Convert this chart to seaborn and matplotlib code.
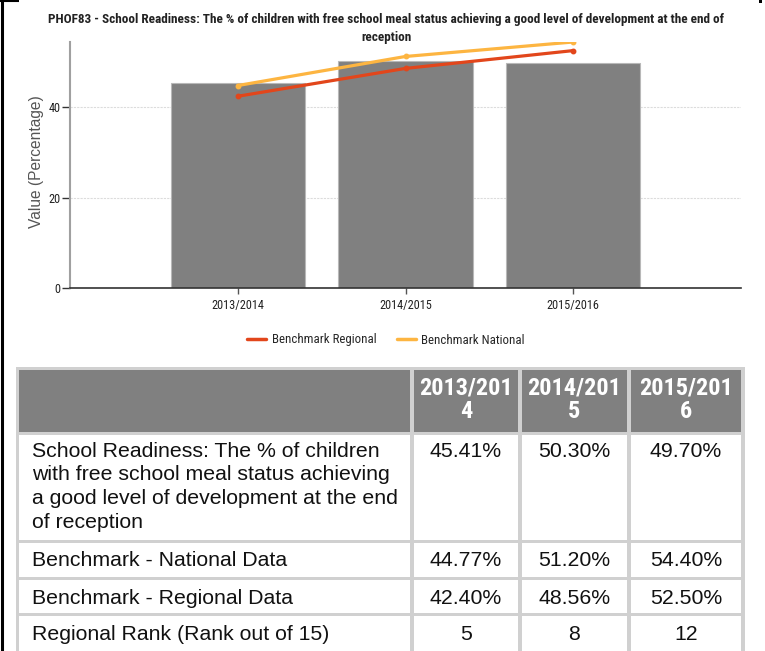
import matplotlib
matplotlib.use('Agg')
import matplotlib.pyplot as plt
import seaborn as sns
import pandas as pd
from matplotlib import font_manager as fm
from matplotlib.patches import Rectangle
from matplotlib.lines import Line2D

# ---------------- data ----------------
periods = ['2013/2014', '2014/2015', '2015/2016']
values = [45.41, 50.30, 49.70]
national = [44.77, 51.20, 54.40]
regional = [42.40, 48.56, 52.50]
ranks = [5, 8, 12]
y_ticks = [0, 20, 40]
header_labels = ['2013/201\n4', '2014/201\n5', '2015/201\n6']
row_labels = ['School Readiness: The % of children\nwith free school meal status achieving\n'
              'a good level of development at the end\nof reception',
              'Benchmark - National Data',
              'Benchmark - Regional Data',
              'Regional Rank (Rank out of 15)']
title = ('PHOF83 - School Readiness: The % of children with free school meal status achieving '
         'a good level of development at the end of\nreception')
legend_labels = ['Benchmark Regional', 'Benchmark National']

# ---------------- style ----------------
sns.set_theme(style='white')
plt.rcParams['font.family'] = ['Liberation Sans', 'DejaVu Sans']


def available(name):
    try:
        fm.findfont(fm.FontProperties(family=name), fallback_to_default=False)
        return True
    except Exception:
        return False


NARROW = ['Liberation Sans', 'DejaVu Sans']
NS = 0.82  # size factor when no condensed face exists
for cand in ['Liberation Sans Narrow', 'Arial Narrow', 'Roboto Condensed',
             'DejaVu Sans Condensed']:
    if available(cand):
        NARROW = [cand, 'DejaVu Sans']
        NS = 1.0
        break

C_BAR = '#808080'
C_REG = '#E2461B'
C_NAT = '#FDB541'

W, H = 765, 651
fig = plt.figure(figsize=(W / 100, H / 100), dpi=100)
fig.patch.set_facecolor('white')


def fx(px):
    return px / W


def fy(py):
    return 1 - py / H


# ---------------- chart ----------------
ax = fig.add_axes([fx(70), fy(288), fx(741) - fx(70), fy(42) - fy(288)])
df = pd.DataFrame({'period': periods, 'value': values,
                   'national': national, 'regional': regional})

sns.barplot(data=df, x='period', y='value', color=C_BAR, saturation=1, width=0.8,
            edgecolor='#b8b8b8', linewidth=0.8, ax=ax, zorder=2)
sns.pointplot(data=df, x='period', y='regional', color=C_REG, markers='o',
              markersize=2.5, linewidth=2.3, errorbar=None, ax=ax, zorder=3)
sns.pointplot(data=df, x='period', y='national', color=C_NAT, markers='o',
              markersize=2.5, linewidth=2.3, errorbar=None, ax=ax, zorder=3)

ax.set_xlim(-1, 3)
ax.set_ylim(0, max(national))
ax.set_yticks(y_ticks)
ax.set_xlabel('')
ax.set_ylabel('')
ax.yaxis.grid(True, color='#dcdcdc', linestyle=(0, (2, 1)), linewidth=0.8)
ax.xaxis.grid(False)
ax.set_axisbelow(True)
for s in ['top', 'right']:
    ax.spines[s].set_visible(False)
ax.spines['left'].set_color('#a0a0a0')
ax.spines['left'].set_linewidth(1.5)
ax.spines['bottom'].set_color('#333333')
ax.spines['bottom'].set_linewidth(1.2)
ax.tick_params(axis='y', length=6, width=1, color='#333333', pad=1, left=True)
ax.tick_params(axis='x', length=4, width=1, color='#555555', pad=4, bottom=True)
for lab in ax.get_yticklabels() + ax.get_xticklabels():
    lab.set_family(NARROW)
    lab.set_fontsize(8.8 * NS)
    lab.set_color('#222222')

fig.text(fx(37), fy(162), 'Value (Percentage)', rotation=90, ha='center', va='center',
         fontsize=11.2, color='#555555')
fig.text(fx(386), fy(13), title, ha='center', va='top', fontsize=9.5 * NS, weight='bold',
         family=NARROW, color='#222222', linespacing=1.5)

handles = [Line2D([], [], color=C_REG, lw=2.5), Line2D([], [], color=C_NAT, lw=2.5)]
fig.legend(handles, legend_labels, loc='center', bbox_to_anchor=(fx(386), fy(340)),
           ncol=2, frameon=False, handlelength=1.5, handletextpad=0.4, columnspacing=1.6,
           prop={'family': NARROW, 'size': 9.3 * NS})

# ---------------- table ----------------
tax = fig.add_axes([0, 0, 1, 1], zorder=-1)
tax.set_xlim(0, W)
tax.set_ylim(H, 0)
tax.axis('off')

BORDER = '#d0d0d0'
tax.add_patch(Rectangle((16, 367), 745 - 16, H - 367 + 5, facecolor=BORDER, edgecolor='none'))
cols = [(19, 410), (414, 518), (522, 627), (631, 741)]
rows = [(370, 432), (435, 540), (543, 577), (580, 613), (616, H + 5)]
for ri, (y0, y1) in enumerate(rows):
    for (x0, x1) in cols:
        tax.add_patch(Rectangle((x0, y0), x1 - x0, y1 - y0,
                                facecolor=C_BAR if ri == 0 else 'white', edgecolor='none'))

for (x0, x1), lab in zip(cols[1:], header_labels):
    tax.text((x0 + x1) / 2, 400, lab, ha='center', va='center', color='white',
             fontsize=17.5 * NS, weight='bold', family=NARROW, linespacing=1.05)

body_vals = [[f'{v:.2f}%' for v in values],
             [f'{v:.2f}%' for v in national],
             [f'{v:.2f}%' for v in regional],
             [str(r) for r in ranks]]
row_text_y = [451, 561, 598, 634]
FS = 15.3
for ri, (lab, vals) in enumerate(zip(row_labels, body_vals)):
    if ri == 0:
        top = row_text_y[0] - 9
        tax.text(32, top, lab, ha='left', va='top', fontsize=FS,
                 color='#111111', linespacing=1.3)
        for (x0, x1), v in zip(cols[1:], vals):
            tax.text((x0 + x1) / 2, top, v, ha='center', va='top',
                     fontsize=FS, color='#111111')
    else:
        tax.text(32, row_text_y[ri], lab, ha='left', va='center', fontsize=FS,
                 color='#111111')
        for (x0, x1), v in zip(cols[1:], vals):
            tax.text((x0 + x1) / 2, row_text_y[ri], v, ha='center', va='center',
                     fontsize=FS, color='#111111')

# page frame fragments
tax.plot([2, 2], [0, H], color='black', lw=2.2, solid_capstyle='butt')
tax.plot([0, 19], [0.6, 0.6], color='black', lw=1.5, solid_capstyle='butt')
tax.add_patch(Rectangle((759, 0), 3, 3, facecolor='black', edgecolor='none'))

fig.savefig('out.png', dpi=100, facecolor='white')
